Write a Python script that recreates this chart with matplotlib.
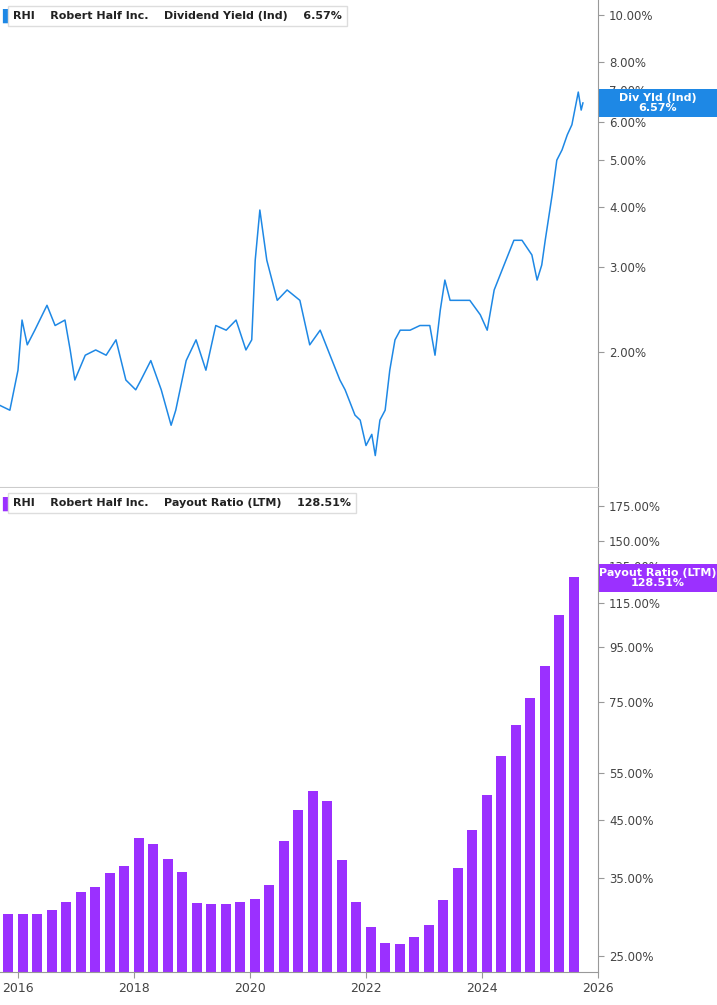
import matplotlib
matplotlib.use("Agg")
import matplotlib.pyplot as plt
import matplotlib.ticker as mt
from matplotlib.patches import Rectangle

yield_years = [2015.69,2015.86,2016.0,2016.07,2016.16,2016.29,2016.5,2016.64,2016.81,2016.9,2016.98,2017.16,2017.34,2017.52,2017.69,2017.86,2018.03,2018.12,2018.29,2018.47,2018.64,2018.72,2018.9,2019.07,2019.24,2019.41,2019.59,2019.76,2019.93,2020.03,2020.09,2020.17,2020.29,2020.47,2020.64,2020.86,2021.03,2021.21,2021.38,2021.55,2021.64,2021.81,2021.9,2022.0,2022.1,2022.16,2022.24,2022.33,2022.41,2022.5,2022.59,2022.76,2022.93,2023.1,2023.19,2023.28,2023.36,2023.45,2023.62,2023.79,2023.97,2024.09,2024.21,2024.38,2024.55,2024.69,2024.86,2024.95,2025.03,2025.09,2025.21,2025.29,2025.38,2025.47,2025.55,2025.66,2025.71,2025.74]
yield_vals = [1.55,1.515,1.834,2.33,2.07,2.22,2.50,2.27,2.33,2.02,1.75,1.97,2.02,1.97,2.12,1.75,1.67,1.75,1.92,1.67,1.41,1.515,1.92,2.12,1.834,2.27,2.22,2.33,2.02,2.12,3.10,3.94,3.10,2.56,2.69,2.56,2.07,2.22,1.97,1.75,1.67,1.48,1.445,1.28,1.35,1.22,1.445,1.515,1.834,2.12,2.22,2.22,2.27,2.27,1.97,2.44,2.82,2.56,2.56,2.56,2.39,2.22,2.69,3.03,3.41,3.41,3.18,2.82,3.03,3.41,4.24,5.00,5.25,5.64,5.92,6.92,6.35,6.57]

payout_quarters = [2015.75 + 0.25*i for i in range(40)]
payout_vals = [30.0,30.0,29.9,30.4,31.5,33.0,33.7,35.7,36.8,41.6,40.5,38.0,35.9,31.4,31.2,31.2,31.5,32.0,34.0,41.0,47.0,50.9,48.9,37.8,31.6,28.3,26.4,26.3,27.1,28.6,31.8,36.5,43.0,50.0,59.4,67.9,76.2,87.6,109.0,128.51]

yticks_top = [2,3,4,5,6,7,8,10]
yticks_bot = [25,35,45,55,75,95,115,135,150,175]
xticks = [2016,2018,2020,2022,2024,2026]

W,H = 717,1005
fig = plt.figure(figsize=(W/100,H/100), dpi=100)
xl = (2015.69, 2026.0)
ax1 = fig.add_axes([0, 1-487/H, 598/W, 487/H])
ax2 = fig.add_axes([0, 1-972/H, 598/W, (972-488)/H])
blue = "#1e88e5"; purple = "#9b30ff"
ax1.plot(yield_years, yield_vals, color=blue, lw=1.1)
ax1.set_yscale("log"); ax1.set_ylim(1.05, 10.74)
ax2.bar(payout_quarters, payout_vals, width=0.17, color=purple, align="edge")
ax2.set_yscale("log"); ax2.set_ylim(23.3, 189)
for ax, ticks in ((ax1, yticks_top), (ax2, yticks_bot)):
    ax.set_xlim(*xl)
    ax.yaxis.tick_right()
    ax.set_yticks(ticks)
    ax.set_yticklabels([f"{t:.2f}%" for t in ticks], fontsize=8.5, color="#444")
    ax.yaxis.set_minor_locator(mt.NullLocator())
    ax.tick_params(axis="y", length=4, color="#999", pad=4)
    for s in ("top","left"):
        ax.spines[s].set_visible(False)
    ax.spines["right"].set_color("#999")
    ax.spines["bottom"].set_color("#ccc")
ax1.set_xticks([])
ax2.set_xticks(xticks)
ax2.set_xticklabels([str(x) for x in xticks], fontsize=9, color="#444")
ax2.tick_params(axis="x", length=4, color="#999")
ax2.spines["bottom"].set_color("#999")

def legend(ax, color, text):
    ax.text(0.004, 0.968, "▌", transform=ax.transAxes, color=color, fontsize=10, va="center")
    ax.text(0.022, 0.968, text, transform=ax.transAxes, fontsize=8, fontweight="bold", va="center",
            color="#222", bbox=dict(boxstyle="square,pad=0.45", fc="white", ec="#ddd"))
legend(ax1, blue, "RHI    Robert Half Inc.    Dividend Yield (Ind)    6.57%")
legend(ax2, purple, "RHI    Robert Half Inc.    Payout Ratio (LTM)    128.51%")

def tag(ycen, h, color, text):
    fig.patches.append(Rectangle((599/W, 1-(ycen+h/2)/H), 118/W, h/H, transform=fig.transFigure,
                                 fc=color, ec="none", zorder=5))
    fig.text(658/W, 1-ycen/H, text, color="white", fontsize=8, ha="center", va="center",
             fontweight="bold", linespacing=1.0, zorder=6)
tag(103, 28, blue, "Div Yld (Ind)\n6.57%")
tag(578, 28, purple, "Payout Ratio (LTM)\n128.51%")
fig.savefig("out.png", dpi=100)
